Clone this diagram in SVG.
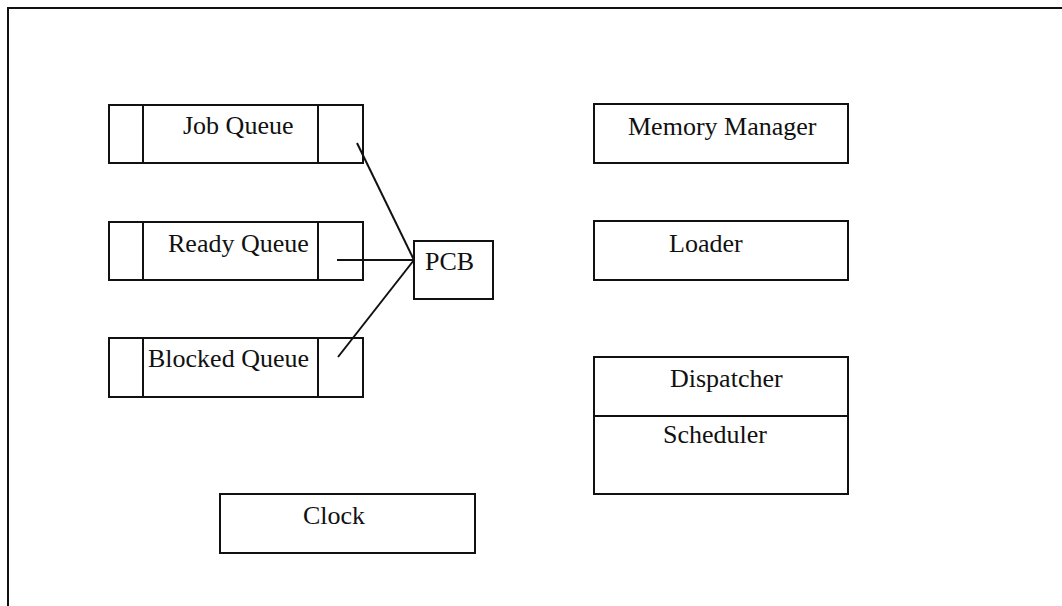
<svg xmlns="http://www.w3.org/2000/svg" width="1062" height="606" viewBox="0 0 1062 606">
<style>
.b{fill:#fff;stroke:#111;stroke-width:2}
.l{fill:none;stroke:#111;stroke-width:2}
.t{font-family:"Liberation Serif","Times New Roman",serif;font-size:26px;fill:#111}
</style>
<rect width="1062" height="606" fill="#fff"/>
<g id="frame">
<path class="l" d="M8,606 V8 H1062"/>
</g>
<g id="job-queue">
<rect class="b" x="109" y="105" width="254" height="58"/>
<line class="l" x1="143" y1="105" x2="143" y2="163"/>
<line class="l" x1="318" y1="105" x2="318" y2="163"/>
<text class="t" x="183" y="134">Job Queue</text>
</g>
<g id="ready-queue">
<rect class="b" x="109" y="222" width="254" height="58"/>
<line class="l" x1="143" y1="222" x2="143" y2="280"/>
<line class="l" x1="318" y1="222" x2="318" y2="280"/>
<text class="t" x="168" y="252">Ready Queue</text>
</g>
<g id="blocked-queue">
<rect class="b" x="109" y="338" width="254" height="59"/>
<line class="l" x1="143" y1="338" x2="143" y2="397"/>
<line class="l" x1="318" y1="338" x2="318" y2="397"/>
<text class="t" x="148" y="367">Blocked Queue</text>
</g>
<g id="pcb">
<rect class="b" x="414" y="241" width="79" height="58"/>
<text class="t" x="425" y="270">PCB</text>
</g>
<g id="connectors">
<line class="l" x1="357" y1="143" x2="414" y2="260"/>
<line class="l" x1="337" y1="260" x2="414" y2="260"/>
<line class="l" x1="338" y1="357" x2="414" y2="260"/>
</g>
<g id="memory-manager">
<rect class="b" x="594" y="104" width="254" height="59"/>
<text class="t" x="628" y="135">Memory Manager</text>
</g>
<g id="loader">
<rect class="b" x="594" y="221" width="254" height="59"/>
<text class="t" x="669" y="252">Loader</text>
</g>
<g id="dispatcher-scheduler">
<rect class="b" x="594" y="357" width="254" height="137"/>
<line class="l" x1="594" y1="416" x2="848" y2="416"/>
<text class="t" x="670" y="387">Dispatcher</text>
<text class="t" x="663" y="443">Scheduler</text>
</g>
<g id="clock">
<rect class="b" x="220" y="494" width="255" height="59"/>
<text class="t" x="303" y="524">Clock</text>
</g>
</svg>
